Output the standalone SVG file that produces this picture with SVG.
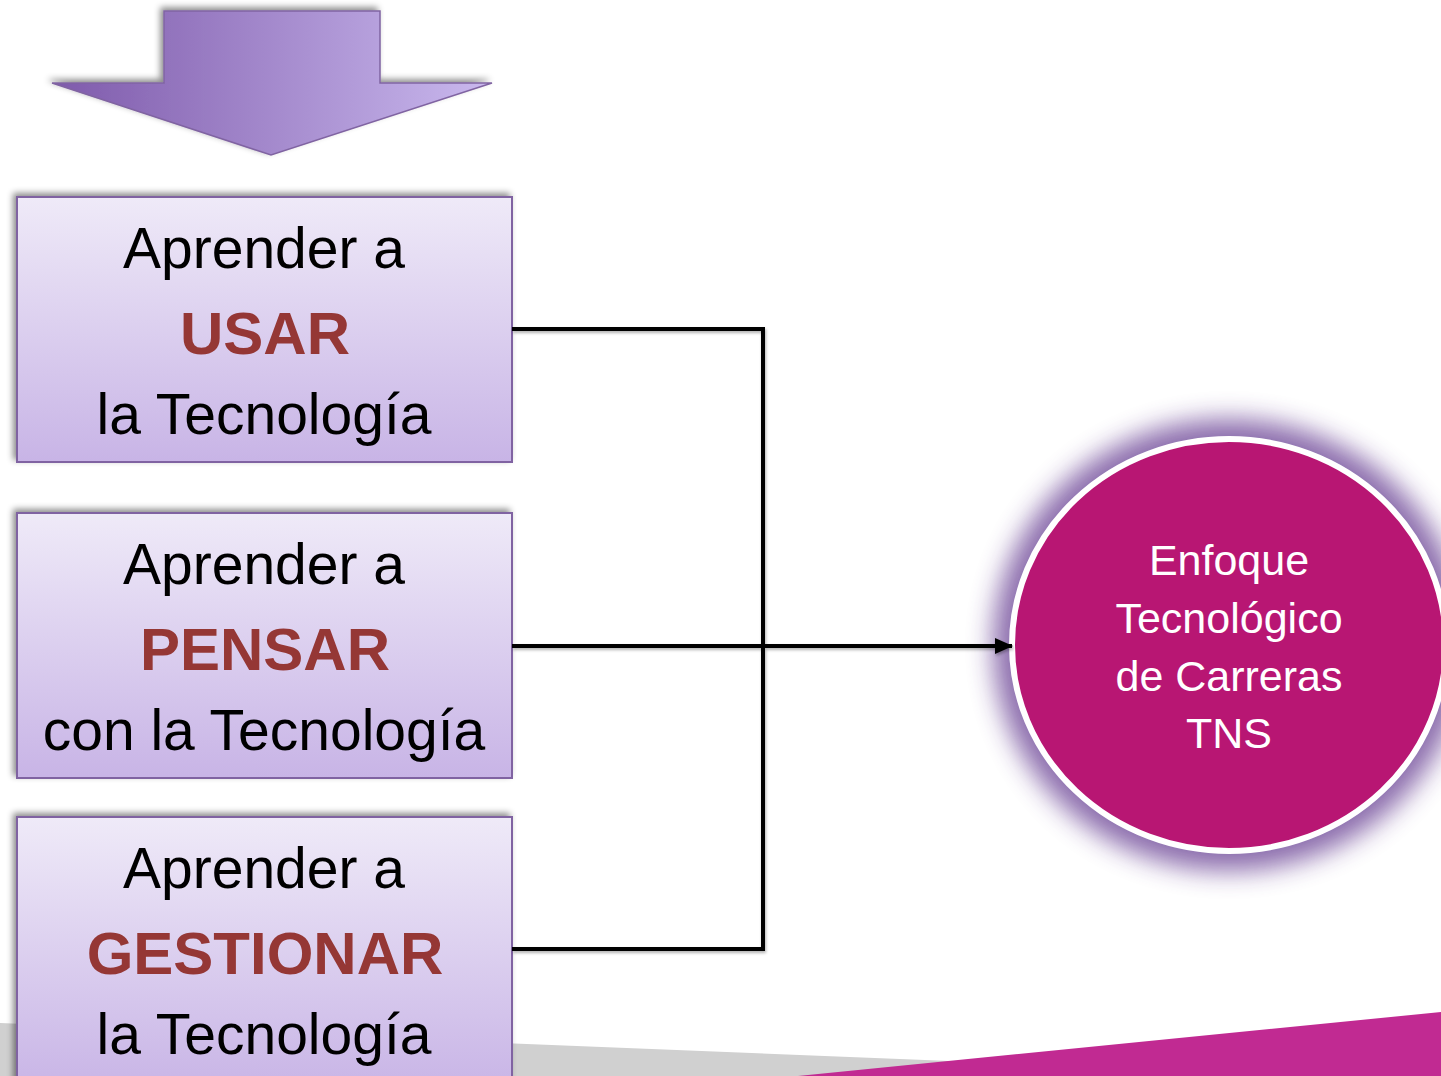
<svg xmlns="http://www.w3.org/2000/svg" width="1441" height="1076" viewBox="0 0 1441 1076">
  <defs>
    <linearGradient id="boxGrad" x1="0" y1="0" x2="0" y2="1">
      <stop offset="0" stop-color="#efeaf8"/>
      <stop offset="1" stop-color="#c8b4e6"/>
    </linearGradient>
    <linearGradient id="arrowGrad" x1="52" y1="0" x2="492" y2="0" gradientUnits="userSpaceOnUse">
      <stop offset="0" stop-color="#7e5aab"/>
      <stop offset="1" stop-color="#cab9ee"/>
    </linearGradient>
    <filter id="shadow" x="-10%" y="-10%" width="120%" height="120%">
      <feDropShadow dx="-3" dy="-3" stdDeviation="3" flood-color="#000" flood-opacity="0.45"/>
    </filter>
    <filter id="lineShadow" x="-5%" y="-5%" width="110%" height="110%">
      <feDropShadow dx="1" dy="2" stdDeviation="1.5" flood-color="#000" flood-opacity="0.3"/>
    </filter>
    <filter id="glow" x="-30%" y="-30%" width="160%" height="160%">
      <feGaussianBlur stdDeviation="13"/>
    </filter>
    <marker id="arrowHead" markerWidth="18" markerHeight="16" refX="17" refY="8" orient="auto" markerUnits="userSpaceOnUse">
      <path d="M0,0 L18,8 L0,16 Z" fill="#000"/>
    </marker>
    <style>
      .box { fill: url(#boxGrad); stroke: #8064a2; stroke-width: 2; filter: url(#shadow); }
      .t { font-family: "Liberation Sans", Arial, sans-serif; font-size: 57px; fill: #000; text-anchor: middle; }
      .b { font-family: "Liberation Sans", Arial, sans-serif; font-size: 60px; font-weight: bold; fill: #953735; text-anchor: middle; }
      .c { font-family: "Liberation Sans", Arial, sans-serif; font-size: 43px; fill: #fff; text-anchor: middle; }
      .conn { fill: none; stroke: #000; stroke-width: 4; }
    </style>
  </defs>

  <rect width="1441" height="1076" fill="#fff"/>

  <g id="background">
    <polygon points="0,1023 1000,1063 1000,1076 0,1076" fill="#d0d0d0"/>
    <polygon points="798,1076 1441,1012 1441,1076" fill="#c12a92"/>
  </g>

  <g id="down-arrow">
    <polygon points="164,11 380,11 380,83 492,83 271,155 52,83 164,83" fill="url(#arrowGrad)" stroke="#8064a2" stroke-width="1.5" filter="url(#shadow)"/>
  </g>

  <g id="box-usar">
    <rect class="box" x="17" y="197" width="495" height="265"/>
    <text class="t" x="264" y="268">Aprender a</text>
    <text class="b" x="265" y="354">USAR</text>
    <text class="t" x="264" y="434">la Tecnología</text>
  </g>

  <g id="box-pensar">
    <rect class="box" x="17" y="513" width="495" height="265"/>
    <text class="t" x="264" y="584">Aprender a</text>
    <text class="b" x="265" y="670">PENSAR</text>
    <text class="t" x="264" y="750">con la Tecnología</text>
  </g>

  <g id="box-gestionar">
    <rect class="box" x="17" y="817" width="495" height="275"/>
    <text class="t" x="264" y="888">Aprender a</text>
    <text class="b" x="265" y="974">GESTIONAR</text>
    <text class="t" x="264" y="1054">la Tecnología</text>
  </g>

  <g id="circle-enfoque">
    <ellipse cx="1229" cy="645" rx="236" ry="226" fill="#8565a8" opacity="0.95" filter="url(#glow)"/>
    <ellipse cx="1229" cy="645" rx="217" ry="206" fill="#b81673" stroke="#fff" stroke-width="6"/>
    <text class="c" x="1229" y="575">Enfoque</text>
    <text class="c" x="1229" y="633">Tecnológico</text>
    <text class="c" x="1229" y="691">de Carreras</text>
    <text class="c" x="1229" y="748">TNS</text>
  </g>

  <g id="connectors" filter="url(#lineShadow)">
    <path class="conn" d="M512,329 H763 V949 H512"/>
    <path class="conn" d="M512,646 H1012" marker-end="url(#arrowHead)"/>
  </g>
</svg>
